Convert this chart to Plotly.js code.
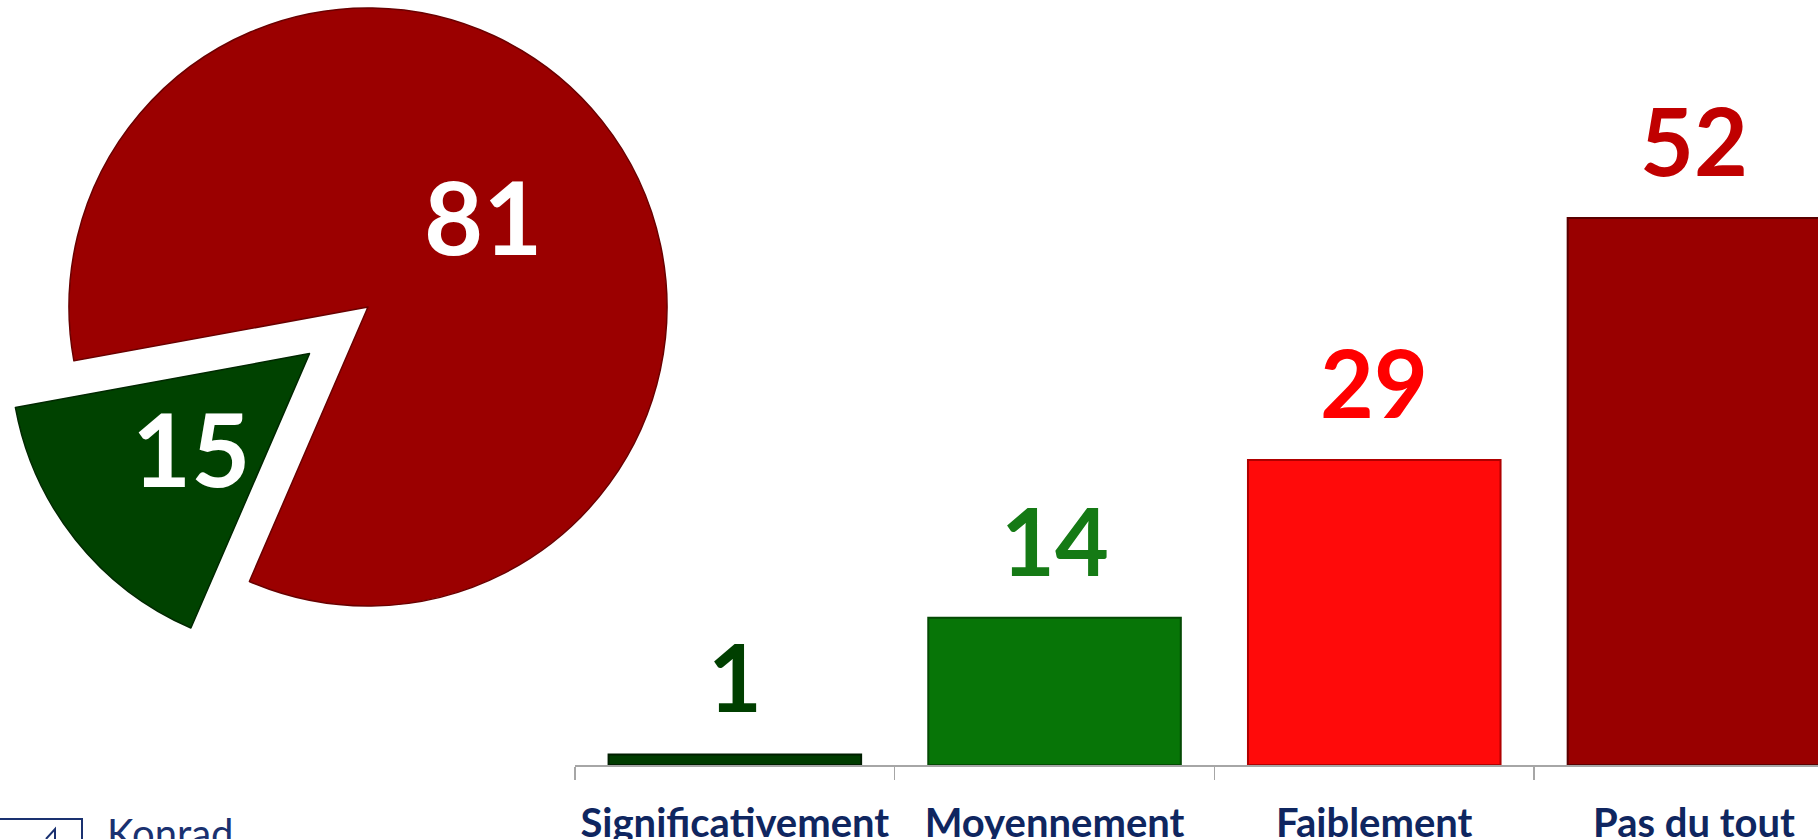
<!DOCTYPE html>
<html><head><meta charset="utf-8">
<script src="https://cdn.plot.ly/plotly-3.0.1.min.js"></script>
<style>html,body{margin:0;padding:0;background:#fff;overflow:hidden}#chart{width:1818px;height:839px}</style>
</head><body><div id="chart"></div>
<script>
// ---- data ----
const pieLabels = ['Faiblement / Pas du tout', 'Significativement / Moyennement'];
const pieValues = [81, 15];
const categories = ['Significativement', 'Moyennement', 'Faiblement', 'Pas du tout'];
const barValues = [1, 14, 29, 52];

// ---- styles ----
const W = 1818, H = 839;
const FONT = 'Lato, "Noto Sans", sans-serif';
const pieColors = ['#9b0000', '#004200'];
const pieLineColors = ['#6a0000', '#002800'];
const barColors = ['#003c00', '#077507', '#ff0a0a', '#990000'];
const barLineColors = ['#001e00', '#044a04', '#b00000', '#5a0000'];
const barLabelColors = ['#003f00', '#157a15', '#ff0000', '#c00000'];
const tickColor = '#0f2660';

// pie geometry (pixels)
const PIE_R = 299;
const pieCenters = [[368, 307], [309.5, 353.6]];
const PIE_ROT = 259.625;
const labelRadius = [0.49, 0.505];

function dom(c, r) {
  return { x: [(c[0] - r) / W, (c[0] + r) / W], y: [1 - (c[1] + r) / H, 1 - (c[1] - r) / H] };
}

const traces = [];
const annotations = [];
const total = pieValues.reduce((a, b) => a + b, 0);
let cum = 0;
pieValues.forEach((v, i) => {
  const colors = pieValues.map((_, j) => j === i ? pieColors[j] : 'rgba(0,0,0,0)');
  const lines = pieValues.map((_, j) => j === i ? pieLineColors[j] : 'rgba(0,0,0,0)');
  traces.push({
    type: 'pie', labels: pieLabels, values: pieValues, sort: false,
    direction: 'clockwise', rotation: PIE_ROT,
    marker: { colors: colors, line: { color: lines, width: 1.5 } },
    textinfo: 'none', hoverinfo: 'label+value', showlegend: false,
    domain: dom(pieCenters[i], PIE_R)
  });
  const mid = (PIE_ROT + 360 * (cum + v / 2) / total) * Math.PI / 180;
  cum += v;
  const px = pieCenters[i][0] + labelRadius[i] * PIE_R * Math.sin(mid);
  const py = pieCenters[i][1] - labelRadius[i] * PIE_R * Math.cos(mid);
  annotations.push({
    xref: 'paper', yref: 'paper', x: px / W, y: 1 - py / H,
    xanchor: 'center', yanchor: 'middle', showarrow: false,
    text: String(v), font: { family: FONT, size: 102, color: '#ffffff', weight: 700 }
  });
});

traces.push({
  type: 'bar', x: categories, y: barValues, xaxis: 'x', yaxis: 'y',
  marker: { color: barColors, line: { color: barLineColors, width: 2 } },
  hoverinfo: 'x+y', showlegend: false
});

categories.forEach((c, i) => {
  annotations.push({
    xref: 'x', yref: 'y', x: c, y: barValues[i], xanchor: 'center', yanchor: 'bottom',
    yshift: 20, showarrow: false, text: String(barValues[i]),
    font: { family: FONT, size: 93, color: barLabelColors[i], weight: 700 }
  });
});

// logo text
annotations.push({
  xref: 'paper', yref: 'paper', x: 105 / W, y: 1 - 807 / H, xanchor: 'left', yanchor: 'top',
  showarrow: false, text: 'Konrad', font: { family: FONT, size: 40, color: '#1a3170' }
});

const layout = {
  width: W, height: H, margin: { l: 0, r: 0, t: 0, b: 0 },
  paper_bgcolor: '#ffffff', plot_bgcolor: 'rgba(0,0,0,0)',
  showlegend: false, bargap: 0.21,
  xaxis: {
    domain: [575 / W, 1], range: [-0.5, 3.388], type: 'category',
    showgrid: false, zeroline: false, showline: true, linecolor: '#a6a6a6', linewidth: 2,
    ticks: 'outside', tickson: 'boundaries', ticklen: 13, tickwidth: 1.5, tickcolor: '#a6a6a6',
    ticklabelstandoff: 22,
    tickfont: { family: FONT, size: 40, color: tickColor, weight: 700 }, fixedrange: true
  },
  yaxis: {
    domain: [1 - 765 / H, 1], range: [0, 765 / 10.52], visible: false, fixedrange: true
  },
  annotations: annotations,
  shapes: [
    { type: 'rect', xref: 'paper', yref: 'paper', x0: -5 / W, x1: 82 / W, y0: 1 - 860 / H, y1: 1 - 819 / H,
      line: { color: '#1a3170', width: 2 }, fillcolor: 'rgba(0,0,0,0)' },
    { type: 'path', xref: 'paper', yref: 'paper',
      path: `M ${46 / W} ${1 - 839 / H} L ${55 / W} ${1 - 829 / H} L ${55 / W} ${1 - 839 / H}`,
      line: { color: '#1a3170', width: 2 } }
  ]
};

Plotly.newPlot('chart', traces, layout, { displayModeBar: false, staticPlot: true });
</script>
</body></html>
